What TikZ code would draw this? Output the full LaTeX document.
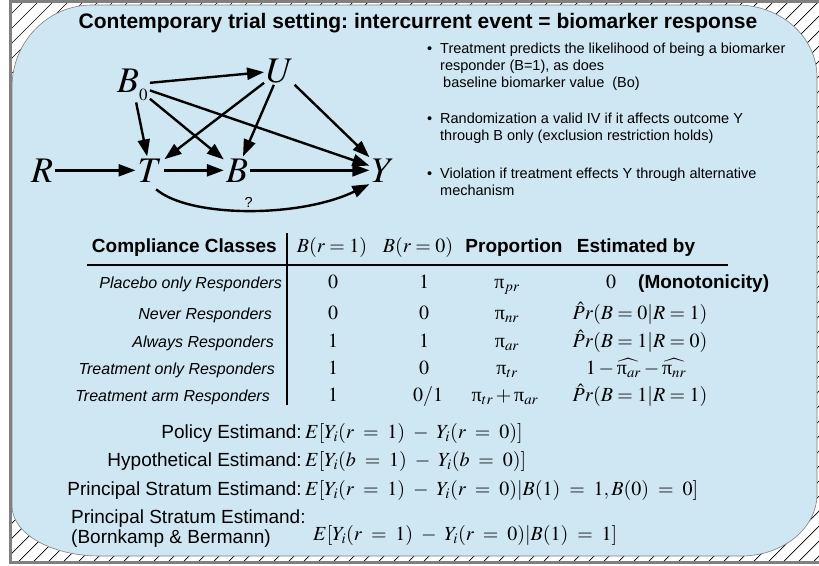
\documentclass[tikz,border=0pt]{standalone}
\usepackage{mathptmx}
\usepackage[no-math]{fontspec}
\setmainfont{Liberation Sans}
\newfontfamily\serifgreek{Liberation Serif}
\newcommand{\piup}{\mbox{\serifgreek π}}
\newcommand{\widemath}{\thickmuskip=8mu\relax\medmuskip=7mu\relax}
\frenchspacing
\usetikzlibrary{arrows.meta}
\definecolor{slideblue}{RGB}{207,230,243}
\definecolor{framegray}{RGB}{128,128,128}

\begin{document}
\begin{tikzpicture}[
	x=1pt,
	y=-1pt,
	var/.style={
		inner sep=2pt,
		font=\fontsize{36}{40}\selectfont
	},
	edge/.style={
		line width=2.4pt,
		-{Triangle[length=17pt,width=12pt]}
	},
	bulletitem/.style={
		anchor=base west,
		align=left,
		inner sep=0pt,
		font=\fontsize{14.5}{17}\selectfont
	},
	classname/.style={
		anchor=base east,
		inner sep=0pt,
		font=\itshape\fontsize{16}{19}\selectfont
	},
	colhead/.style={
		anchor=base,
		inner sep=0pt,
		font=\bfseries\fontsize{19}{22}\selectfont
	},
	cell/.style={
		anchor=base,
		inner sep=0pt,
		font=\fontsize{20}{24}\selectfont
	},
	estlabel/.style={
		anchor=base east,
		align=right,
		inner sep=0pt,
		font=\fontsize{19}{20}\selectfont
	},
	formula/.style={
		anchor=base west,
		inner sep=0pt,
		font={\fontsize{20}{24}\selectfont\widemath}
	},
]

\useasboundingbox (0,0) rectangle (819,565);
\fill[white] (0,0) rectangle (819,565);
\begin{scope}
	\clip (10,2) rectangle (819,561);
	\foreach \i in {-570,-555,...,825}
		\draw[line width=0.7pt] (\i,565) -- (\i+565,0);
\end{scope}
\draw[framegray, line width=3pt] (10,1.5) rectangle (822,562);

\filldraw[fill=slideblue, draw=gray, line width=0.6pt]
	(92,5) -- (737,5)
	arc[start angle=-90, end angle=0, x radius=80, y radius=72]
	-- (817,494)
	arc[start angle=0, end angle=90, x radius=76, y radius=62]
	-- (100,556)
	arc[start angle=90, end angle=180, x radius=88, y radius=50]
	-- (12,87)
	arc[start angle=180, end angle=270, x radius=80, y radius=82]
	-- cycle;

\node[anchor=base, font=\bfseries\fontsize{21}{25}\selectfont] (title) at (418,28.5) {Contemporary trial setting: intercurrent event = biomarker response};

\node[var, anchor=base west] (b0) at (115,92) {$B$\raisebox{-8pt}{\fontsize{17}{17}\selectfont$0$}};
\node[var, anchor=base] (u) at (280,82) {$U$};
\node[var, anchor=base] (r) at (42,182) {$R$};
\node[var, anchor=base] (t) at (150,182) {$T$};
\node[var, anchor=base] (b) at (237,182) {$B$};
\node[var, anchor=base] (y) at (383,182) {$Y$};

\draw[edge] (r) -- (t);
\draw[edge] (t) -- (b);
\draw[edge] (b) -- (y);
\draw[edge] (b0) -- (u);
\draw[edge] (b0) -- (t);
\draw[edge] (b0) -- (b);
\draw[edge] (b0) -- (y);
\draw[edge] (u) -- (t);
\draw[edge] (u) -- (b);
\draw[edge] (u) -- (y);
\draw[edge, shorten <=8pt] (t.south) .. controls (190,218) and (300,218) .. node[above, inner sep=1pt, font=\fontsize{14.5}{17}\selectfont] (q) {?} (y.south west);

\node[bulletitem] (item1) at (440,87) {\llap{\textbullet\hspace{8pt}}Treatment predicts the likelihood of being a biomarker\\responder (B=1), as does\\\hspace{3pt}baseline biomarker value\ \ (Bo)};
\node[bulletitem] (item2) at (440,140) {\llap{\textbullet\hspace{8pt}}Randomization a valid IV if it affects outcome Y\\through B only (exclusion restriction holds)};
\node[bulletitem] (item3) at (440,195) {\llap{\textbullet\hspace{8pt}}Violation if treatment effects Y through alternative\\mechanism};

\node[colhead, anchor=base east] (classes) at (277,252) {Compliance Classes};
\node[cell] (hr1) at (332,252) {$B(r=1)$};
\node[cell] (hr0) at (418,252) {$B(r=0)$};
\node[colhead] (hprop) at (514,252) {Proportion};
\node[colhead] (hest) at (636,252) {Estimated by};
\draw[line width=2.5pt] (87,265) -- (728,265);
\draw[line width=2.5pt] (287,233) -- (287,405);

\node[classname] (placebo) at (282,288) {Placebo only Responders};
\node[cell] (placebo1) at (333,288) {$0$};
\node[cell] (placebo0) at (424,288) {$1$};
\node[cell] (placebop) at (507,288) {$\piup_{pr}$};
\node[cell, anchor=base west] (placeboe) at (606,288) {$0$\hspace{22pt}\bfseries\fontsize{19}{22}\selectfont(Monotonicity)};

\node[classname] (never) at (272,319) {Never Responders};
\node[cell] (never1) at (333,319) {$0$};
\node[cell] (never0) at (424,319) {$0$};
\node[cell] (neverp) at (507,319) {$\piup_{nr}$};
\node[cell] (nevere) at (640,319) {$\hat{P}r(B=0|R=1)$};

\node[classname] (always) at (274,347) {Always Responders};
\node[cell] (always1) at (333,347) {$1$};
\node[cell] (always0) at (424,347) {$1$};
\node[cell] (alwaysp) at (507,347) {$\piup_{ar}$};
\node[cell] (alwayse) at (640,347) {$\hat{P}r(B=1|R=0)$};

\node[classname] (tronly) at (275,374) {Treatment only Responders};
\node[cell] (tronly1) at (333,374) {$1$};
\node[cell] (tronly0) at (424,374) {$0$};
\node[cell] (tronlyp) at (507,374) {$\piup_{tr}$};
\node[cell] (tronlye) at (636,374) {$1-\widehat{\piup_{ar}}-\widehat{\piup_{nr}}$};

\node[classname] (trarm) at (270,401) {Treatment arm Responders};
\node[cell] (trarm1) at (333,401) {$1$};
\node[cell] (trarm0) at (428,401) {$0/1$};
\node[cell] (trarmp) at (505,401) {$\piup_{tr}+\piup_{ar}$};
\node[cell] (trarme) at (640,401) {$\hat{P}r(B=1|R=1)$};

\node[estlabel] (policy) at (302,438) {Policy Estimand:};
\node[formula] (policyf) at (305,438) {$E[Y_i(r=1)-Y_i(r=0)]$};
\node[estlabel] (hypo) at (302,466) {Hypothetical Estimand:};
\node[formula] (hypof) at (305,466) {$E[Y_i(b=1)-Y_i(b=0)]$};
\node[estlabel] (stratum) at (302,495) {Principal Stratum Estimand:};
\node[formula] (stratumf) at (305,495) {$E[Y_i(r=1)-Y_i(r=0)|B(1)=1,B(0)=0]$};
\node[estlabel, anchor=base west, align=left] (bornkamp) at (71,543) {Principal Stratum Estimand:\\(Bornkamp \& Bermann)};
\node[formula] (bornkampf) at (313,540) {$E[Y_i(r=1)-Y_i(r=0)|B(1)=1]$};

\end{tikzpicture}
\end{document}
